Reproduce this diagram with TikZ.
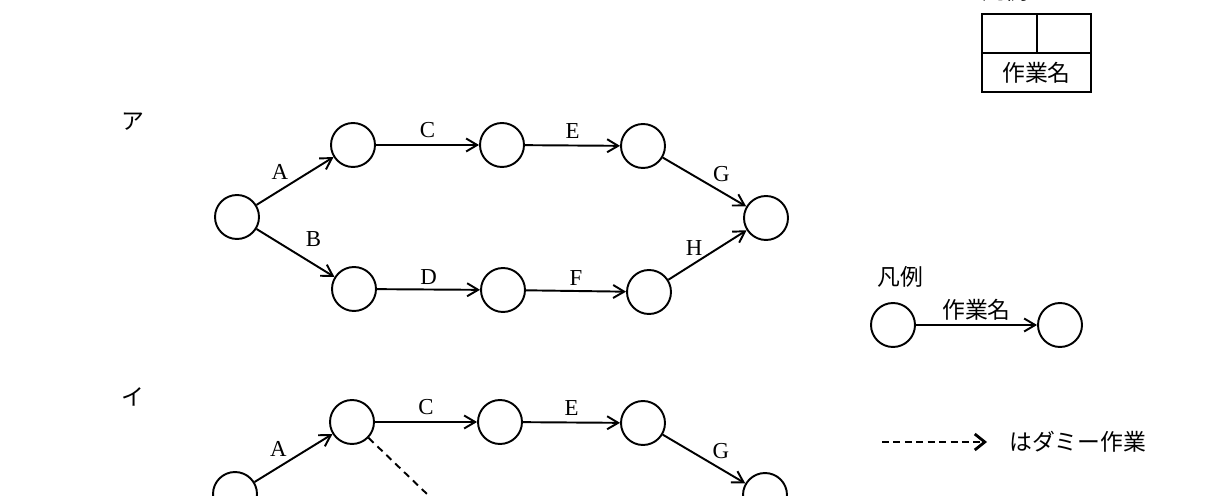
\documentclass[tikz,border=0pt]{standalone}
\usepackage{fontspec}
\setmainfont{Liberation Serif}
\newfontfamily\jp{Noto Sans CJK JP}
\usetikzlibrary{arrows.meta,positioning}

\begin{document}
\begin{tikzpicture}[x=0.02cm,y=-0.02cm,
        font=\fontsize{13}{15}\selectfont,
        ev/.style={draw,circle,line width=1.1pt,minimum size=0.88cm,inner sep=0pt},
        act/.style={line width=1.1pt,-{Straight Barb[length=2.2mm,width=2.6mm]}},
        dummy/.style={act,dash pattern=on 4pt off 3pt},
        jptext/.style={font=\jp\fontsize{13}{15}\selectfont}]
            \useasboundingbox (0,0) rectangle (1217,496);

            % box legend
            \node[jptext] (boxtitle) at (1005,-9) {凡例};
            \draw[line width=1.1pt] (982,14) rectangle (1091,92);
            \draw[line width=1.1pt] (982,53)--(1091,53);
            \draw[line width=1.1pt] (1037,14)--(1037,53);
            \node[jptext] (boxname) at (1036.5,72.5) {作業名};

            % ア
            \node[jptext] (labA) at (133,122) {ア};
            \node[ev] (a1) at (237,217) {};
            \node[ev] (a2) at (353,145) {};
            \node[ev] (a3) at (502,145) {};
            \node[ev] (a4) at (643,146) {};
            \node[ev] (a5) at (766,218) {};
            \node[ev] (a6) at (354,289) {};
            \node[ev] (a7) at (503,290) {};
            \node[ev] (a8) at (649,292) {};
            \draw[act] (a1)--node[above left=-3pt and 0pt]{A}(a2);
            \draw[act] (a1)--node[above right=0pt and 2pt]{B}(a6);
            \draw[act] (a2)--node[above=0pt]{C}(a3);
            \draw[act] (a3)--node[above=0pt]{E}(a4);
            \draw[act] (a4)--node[above right=-4pt and 1pt]{G}(a5);
            \draw[act] (a6)--node[above=-1pt]{D}(a7);
            \draw[act] (a7)--node[above=-1pt]{F}(a8);
            \draw[act] (a8)--node[above left=-4pt and -1pt]{H}(a5);

            % legend
            \node[jptext] (legtitle) at (900,277) {凡例};
            \node[ev] (l1) at (893,325) {};
            \node[ev] (l2) at (1060,325) {};
            \draw[act] (l1)--node[above=-1pt,jptext]{作業名}(l2);

            % イ
            \node[jptext] (labB) at (133,397) {イ};
            \node[ev] (b1) at (235,494) {};
            \node[ev] (b2) at (352,422) {};
            \node[ev] (b3) at (500,422) {};
            \node[ev] (b4) at (643,423) {};
            \node[ev] (b5) at (765,495) {};
            \coordinate (b7) at (503,567);
            \draw[act] (b1)--node[above left=-3pt and 0pt]{A}(b2);
            \draw[act] (b2)--node[above=0pt]{C}(b3);
            \draw[act] (b3)--node[above=0pt]{E}(b4);
            \draw[act] (b4)--node[above right=-4pt and 1pt]{G}(b5);
            \draw[dummy] (b2)--(b7);

            % dummy legend
            \coordinate (d1) at (882,442);
            \coordinate (d2) at (987,442);
            \draw[line width=1.1pt,dash pattern=on 4pt off 2.5pt,-{Straight Barb[length=2mm,width=3.2mm,line width=1.6pt]}] (d1)--(d2);
            \node[jptext,anchor=west] (dumtext) at (1003,442) {はダミー作業};
        \end{tikzpicture}
\end{document}
